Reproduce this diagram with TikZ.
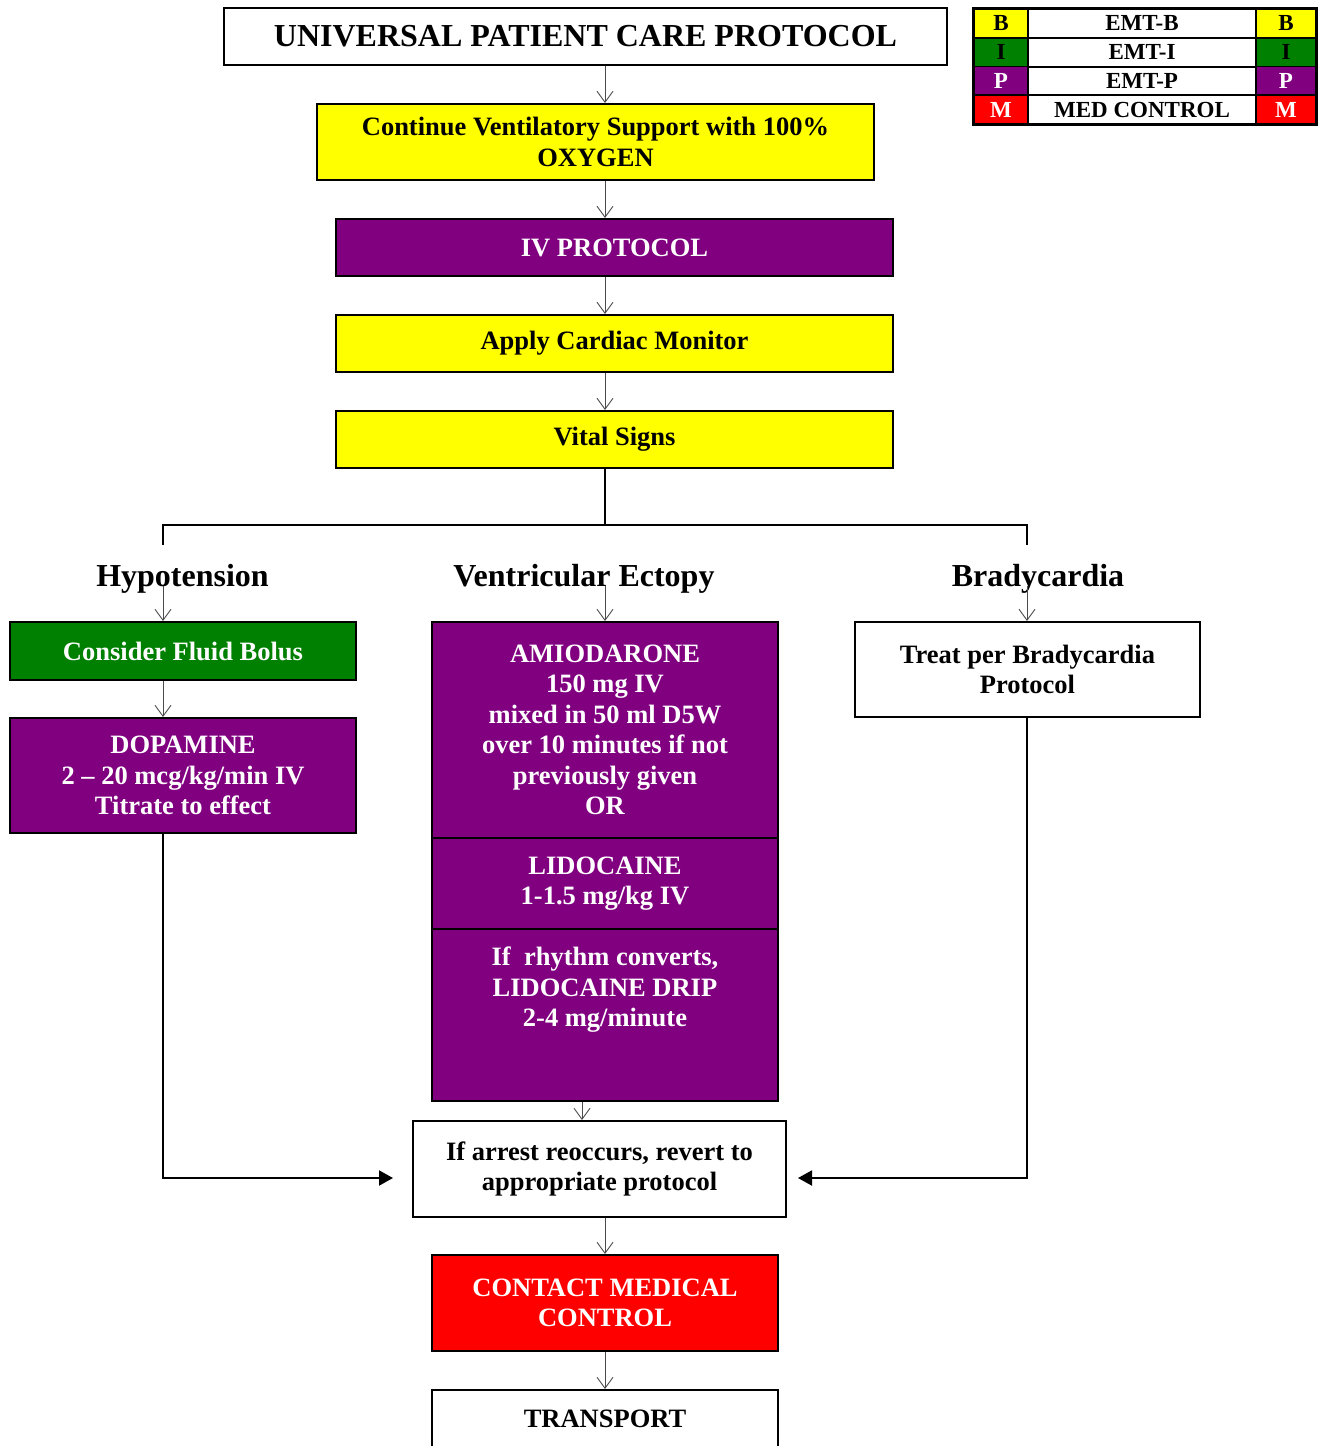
\documentclass[tikz,border=0pt]{standalone}
\usepackage{fontspec}
\setmainfont{Liberation Serif}
\usetikzlibrary{arrows.meta}
\definecolor{protoyellow}{HTML}{FFFF00}
\definecolor{protogreen}{HTML}{008000}
\definecolor{protopurple}{HTML}{800080}
\definecolor{protored}{HTML}{FF0000}
\tikzset{
    box/.style={draw, line width=2pt, rectangle, inner sep=0pt, align=center, font=\fontsize{26.5}{30.5}\selectfont\bfseries},
    heading/.style={anchor=base, inner sep=0pt, font=\fontsize{32}{38}\selectfont\bfseries},
    legcell/.style={draw, line width=1.6pt, rectangle, inner sep=0pt, minimum height=29pt, font=\fontsize{23}{26}\selectfont\bfseries},
    flow/.style={draw=black!70, line width=0.9pt, -{Straight Barb[length=11pt, width=16pt, line width=0.9pt]}},
    trunk/.style={draw, line width=2pt},
    link/.style={draw, line width=2pt, -{Triangle[length=14pt, width=15pt]}}
}
\begin{document}
\begin{tikzpicture}[x=1pt, y=-1pt]
    \useasboundingbox (0,0) rectangle (1321,1446);
    \clip (0,0) rectangle (1321,1446);
    \fill[white] (0,0) rectangle (1321,1446);

    \coordinate (spine)   at (605,0);
    \coordinate (fork)    at (605,525);
    \coordinate (lbranch) at (163,545);
    \coordinate (rbranch) at (1027,545);
    \coordinate (mid)     at (582,0);
    \coordinate (ltip)    at (393,1178);
    \coordinate (rtip)    at (798,1178);

    % main column
    \node (upc)  at (585.5,36.5) [box, minimum width=723pt, minimum height=57pt, font=\fontsize{32}{38}\selectfont\bfseries] {UNIVERSAL PATIENT CARE PROTOCOL};
    \node (vent) at (595.5,142)  [box, minimum width=557pt, minimum height=76pt, fill=protoyellow] {Continue Ventilatory Support with 100\%\\OXYGEN};
    \node (iv)   at (614.5,247.5) [box, minimum width=557pt, minimum height=57pt, fill=protopurple, text=white] {IV PROTOCOL};
    \node (acm)  at (614.5,343.5) [box, minimum width=557pt, minimum height=57pt, fill=protoyellow] {Apply Cardiac Monitor};
    \node (vs)   at (614.5,439.5) [box, minimum width=557pt, minimum height=57pt, fill=protoyellow] {Vital Signs};

    % branch headings
    \node (hypo)  at (182.5,586) [heading] {Hypotension};
    \node (vect)  at (584,586)   [heading] {Ventricular Ectopy};
    \node (brady) at (1038,586)  [heading] {Bradycardia};

    % hypotension
    \node (fluid) at (183,651)   [box, minimum width=346pt, minimum height=58pt, fill=protogreen, text=white] {Consider Fluid Bolus};
    \node (dopa)  at (183,775.5) [box, minimum width=346pt, minimum height=115pt, fill=protopurple, text=white] {DOPAMINE\\2 -- 20 mcg/kg/min IV\\Titrate to effect};

    % ventricular ectopy
    \node (amio)   at (605,730)   [box, minimum width=346pt, minimum height=216pt, fill=protopurple, text=white] {AMIODARONE\\150 mg IV\\mixed in 50 ml D5W\\over 10 minutes if not\\previously given\\OR};
    \node (lido)   at (605,883.5) [box, minimum width=346pt, minimum height=91pt, fill=protopurple, text=white] {LIDOCAINE\\1-1.5 mg/kg IV};
    \node (rhythm) at (605,1015)  [box, minimum width=346pt, minimum height=172pt, fill=protopurple] {};
    \node (rhytxt) at (605,946)   [box, draw=none, anchor=north, text=white] {If~~rhythm converts,\\LIDOCAINE DRIP\\2-4 mg/minute};

    % bradycardia
    \node (bproto) at (1027.5,669.5) [box, minimum width=345pt, minimum height=95pt] {Treat per Bradycardia\\Protocol};

    % outcome
    \node (arrest)  at (599.5,1169) [box, minimum width=373pt, minimum height=96pt] {If arrest reoccurs, revert to\\appropriate protocol};
    \node (contact) at (605,1303)   [box, minimum width=346pt, minimum height=96pt, fill=protored, text=white] {CONTACT MEDICAL\\CONTROL};
    \node (trans)   at (605,1419)   [box, minimum width=346pt, minimum height=58pt] {TRANSPORT};

    % legend
    \foreach \lt/\lname/\lcol/\ltxt [count=\r] in {B/EMT-B/protoyellow/black, I/EMT-I/protogreen/black, P/EMT-P/protopurple/white, M/MED CONTROL/protored/white} {
        \node (legL\r) at (1001,{23.5+28.7*(\r-1)}) [legcell, minimum width=54pt, fill=\lcol, text=\ltxt] {\lt};
        \node (legT\r) at (1142,{23.5+28.7*(\r-1)}) [legcell, minimum width=228pt] {\lname};
        \node (legR\r) at (1286,{23.5+28.7*(\r-1)}) [legcell, minimum width=60pt, fill=\lcol, text=\ltxt] {\lt};
    }
    \draw[line width=2.4pt] (legL1.north west) rectangle (legR4.south east);

    % main column arrows
    \draw[flow] (upc.south -| spine)  -- (vent.north -| spine);
    \draw[flow] (vent.south -| spine) -- (iv.north -| spine);
    \draw[flow] (iv.south -| spine)   -- (acm.north -| spine);
    \draw[flow] (acm.south -| spine)  -- (vs.north -| spine);

    % fork into three branches
    \draw[trunk] (vs.south -| spine) -- (fork);
    \draw[trunk] (lbranch) -- (lbranch |- fork) -- (rbranch |- fork) -- (rbranch);
    \draw[flow] (hypo.base -| lbranch)  -- (fluid.north -| lbranch);
    \draw[flow] (vect.base -| spine)    -- (amio.north -| spine);
    \draw[flow] (brady.base -| rbranch) -- (bproto.north -| rbranch);
    \draw[flow] (fluid.south -| lbranch) -- (dopa.north -| lbranch);

    % into the outcome box
    \draw[flow] (rhythm.south -| mid) -- (arrest.north -| mid);
    \draw[link] (dopa.south -| lbranch) |- (ltip);
    \draw[link] (bproto.south -| rbranch) |- (rtip);
    \draw[flow] (arrest.south -| spine)  -- (contact.north -| spine);
    \draw[flow] (contact.south -| spine) -- (trans.north -| spine);
\end{tikzpicture}
\end{document}
